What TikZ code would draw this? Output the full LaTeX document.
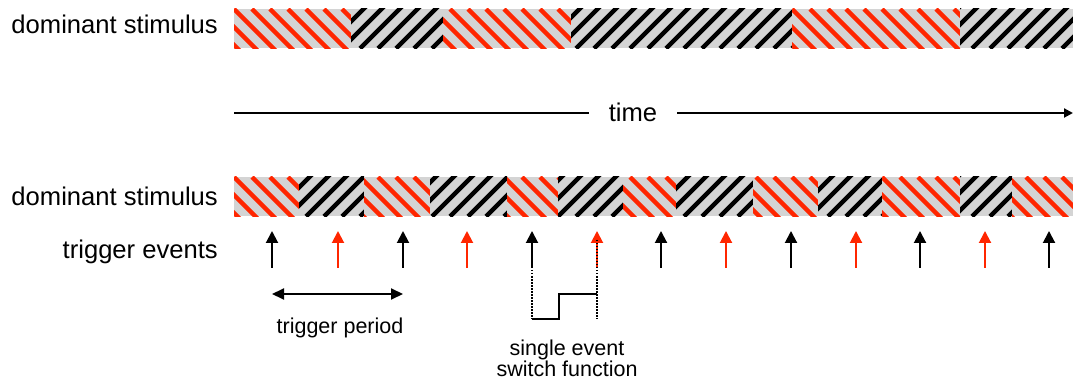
\documentclass[tikz,border=0pt]{standalone}
\usepackage{fontspec}
\setmainfont{Liberation Sans}
\usetikzlibrary{arrows.meta}

\definecolor{stimred}{RGB}{255,38,0}
\definecolor{stimgray}{RGB}{212,212,212}

% hatched pieces of a stimulus bar: x from #1 to #2, top edge at #3
\newcommand{\redpart}[3]{%
  \begin{scope}
    \clip (#1,#3) rectangle (#2,#3+39.5);
    \fill[stimgray] (#1,#3) rectangle (#2,#3+39.5);
    \foreach \a in {-54,-36,...,1090}
      \draw[stimred,hatch] (\a,#3) -- ++(46,46);
  \end{scope}}
\newcommand{\blackpart}[3]{%
  \begin{scope}
    \clip (#1,#3) rectangle (#2,#3+39.5);
    \fill[stimgray] (#1,#3) rectangle (#2,#3+39.5);
    \foreach \a in {-54,-36,...,1090}
      \draw[black,hatch] (\a,#3+39.5) -- ++(46,-46);
  \end{scope}}

\begin{document}
\begin{tikzpicture}[x=1pt,y=-1pt]
            \tikzset{hatch/.style = {line width=4.3pt}}
            \tikzset{bigtext/.style = {font=\fontsize{25.6}{30}\selectfont, inner sep=0pt}}
            \tikzset{smalltext/.style = {font=\fontsize{21.5}{26}\selectfont, inner sep=0pt}}
            \tikzset{trig/.style = {line width=2pt, -{Triangle[width=12pt,length=12pt]}}}
            \useasboundingbox (0,0) rectangle (1073,379);
            % upper stimulus bar
            \redpart{234}{351}{9}
            \blackpart{351}{443}{9}
            \redpart{443}{571}{9}
            \blackpart{571}{792}{9}
            \redpart{792}{960}{9}
            \blackpart{960}{1073}{9}
            % lower stimulus bar
            \redpart{234}{299}{177}
            \blackpart{299}{364}{177}
            \redpart{364}{430}{177}
            \blackpart{430}{507}{177}
            \redpart{507}{558}{177}
            \blackpart{558}{623}{177}
            \redpart{623}{676}{177}
            \blackpart{676}{753}{177}
            \redpart{753}{818}{177}
            \blackpart{818}{882}{177}
            \redpart{882}{960}{177}
            \blackpart{960}{1012}{177}
            \redpart{1012}{1073}{177}
            % labels
            \node[bigtext, anchor=base east] (dom1) at (218,33.5) {dominant stimulus};
            \node[bigtext, anchor=base east] (dom2) at (218,205.5) {dominant stimulus};
            \node[bigtext, anchor=base east] (trev) at (218,259) {trigger events};
            % time axis
            \node[bigtext, anchor=base, inner xsep=20pt] (time) at (633,121.5) {time};
            \coordinate (t0) at (234,113);
            \coordinate (t1) at (1073,113);
            \draw[line width=2pt] (t0) -- (t0 -| time.west);
            \draw[line width=2pt, -{Triangle[width=9pt,length=9pt]}] (t0 -| time.east) -- (t1);
            % trigger events
            \foreach \x/\c [count=\i] in {272/black,338/stimred,403/black,467/stimred,532/black,597/stimred,661/black,726/stimred,791/black,856/stimred,920/black,985/stimred,1049/black}
            {
              \coordinate (b\i) at (\x,268);
              \coordinate (e\i) at (\x,231);
              \draw[trig,\c] (b\i) -- (e\i);
            }
            % trigger period
            \coordinate (p1) at (272,294);
            \coordinate (p2) at (403,294);
            \draw[line width=2pt, {Triangle[width=11pt,length=12pt]}-{Triangle[width=11pt,length=12pt]}] (p1) -- (p2);
            \node[smalltext, anchor=base] (per) at (340,333) {trigger period};
            % switch function
            \coordinate (d1) at (532,240);
            \coordinate (d2) at (597,240);
            \coordinate (s1) at (532,319);
            \coordinate (s2) at (558.5,319);
            \coordinate (s3) at (558.5,294);
            \coordinate (s4) at (597,294);
            \coordinate (s5) at (597,319);
            \draw[line width=1.5pt, dash pattern=on 1.5pt off 1.5pt] (d1) -- (s1);
            \draw[line width=1.5pt, dash pattern=on 1.5pt off 1.5pt] (d2) -- (s5);
            \draw[line width=2pt] (s1) -- (s2) -- (s3) -- (s4);
            \node[smalltext, anchor=base] (sw1) at (567,355) {single event};
            \node[smalltext, anchor=base] (sw2) at (567,376) {switch function};
        \end{tikzpicture}
\end{document}
